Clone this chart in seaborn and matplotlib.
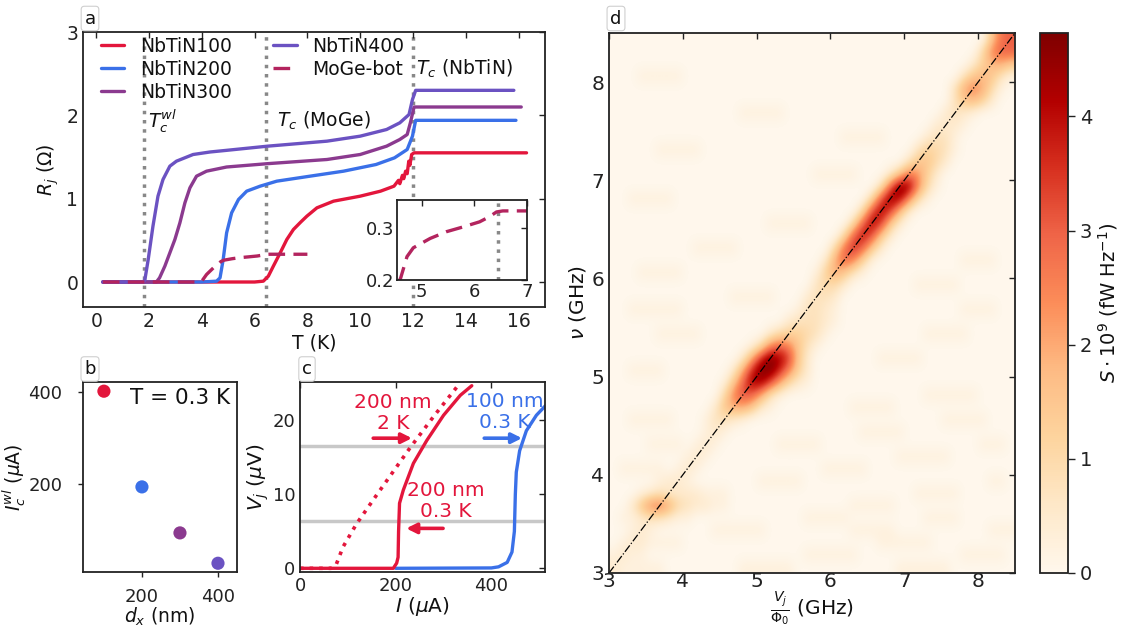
import numpy as np
import pandas as pd
import matplotlib
matplotlib.use("Agg")
import matplotlib.pyplot as plt
import seaborn as sns

# ---------------- data ----------------
# panel a : R_j(T)
T_100 = [0.25, 2.0, 4.0, 6.0, 6.33, 6.52, 6.71, 6.97, 7.22, 7.47, 7.75, 7.98, 8.36, 8.99, 10.0,
         10.77, 11.28, 11.45, 11.5, 11.6, 11.65, 11.72, 11.78, 11.84, 11.88, 11.95, 12.04, 16.3]
R_100 = [0, 0, 0, 0, 0.01, 0.07, 0.19, 0.35, 0.51, 0.63, 0.72, 0.79, 0.89, 0.97, 1.03,
         1.09, 1.15, 1.22, 1.18, 1.28, 1.24, 1.33, 1.30, 1.45, 1.40, 1.53, 1.55, 1.55]
T_200 = [0.25, 4.0, 4.56, 4.69, 4.81, 4.94, 5.13, 5.39, 5.7, 6.21, 6.84, 8.1, 9.37, 10.6,
         11.3, 11.78, 11.98, 12.1, 15.9]
R_200 = [0, 0, 0.01, 0.05, 0.27, 0.59, 0.83, 0.99, 1.09, 1.15, 1.21, 1.27, 1.33, 1.41,
         1.49, 1.59, 1.75, 1.94, 1.94]
T_300 = [0.25, 2.28, 2.4, 2.6, 2.79, 2.98, 3.17, 3.36, 3.55, 3.8, 4.18, 4.94, 6.49, 8.74,
         10.0, 11.0, 11.5, 11.78, 11.9, 12.04, 16.1]
R_300 = [0, 0, 0.05, 0.19, 0.35, 0.51, 0.71, 0.95, 1.13, 1.27, 1.33, 1.38, 1.42, 1.47,
         1.53, 1.63, 1.71, 1.77, 1.91, 2.10, 2.10]
T_400 = [0.25, 1.77, 1.84, 1.97, 2.15, 2.34, 2.53, 2.79, 3.04, 3.67, 4.31, 4.94, 6.49, 8.74,
         10.0, 11.0, 11.5, 11.85, 11.98, 12.1, 15.82]
R_400 = [0, 0, 0.02, 0.27, 0.67, 1.03, 1.23, 1.39, 1.45, 1.53, 1.56, 1.58, 1.63, 1.69,
         1.75, 1.83, 1.91, 2.01, 2.19, 2.30, 2.30]
T_moge = [0.25, 3.9, 4.0, 4.18, 4.44, 4.6, 4.72, 4.84, 5.16, 5.47, 5.78, 6.1, 6.29, 6.42, 6.54, 8.0]
R_moge = [0, 0, 0.01, 0.09, 0.17, 0.204, 0.245, 0.262, 0.28, 0.293, 0.302, 0.312, 0.322,
          0.331, 0.333, 0.333]
T_lines = [1.8, 6.45, 12.0]

# panel b : critical current vs width
d_x = [100, 200, 300, 400]
Ic_wl = [402, 194, 94, 28]
b_names = ["NbTiN100", "NbTiN200", "NbTiN300", "NbTiN400"]

# panel c : V(I)
I_200_03 = [0, 195, 202, 205, 206, 208, 216, 237, 265, 300, 335, 359]
V_200_03 = [0, 0, 0.7, 1.5, 5.0, 8.8, 10.6, 14.2, 17.3, 20.7, 23.4, 24.7]
I_200_2 = [0, 65, 75, 90, 118, 160, 230, 280, 330]
V_200_2 = [0, 0, 0.4, 2.9, 6.0, 9.9, 16.3, 20.6, 24.7]
I_100_03 = [200, 400, 415, 433, 443, 448, 450, 452, 459, 473, 494, 513]
V_100_03 = [0, 0.05, 0.2, 0.8, 2.2, 5.0, 10.0, 13.0, 15.9, 18.6, 20.7, 22.0]
V_levels = [16.6, 6.4]

# panel d : emission spectrum S(V/Phi0, nu), 0.125 GHz cells, rows bottom->top,
# one character per cell: value = int(char, 36) * 0.25
S_rows = [
    "2111 1100 0000 0011 1111 0000 0000 0001 1111 1000 0000",
    "1211 0000 0000 0000 0000 0111 1110 0000 0000 0011 1110",
    "0122 1111 0000 0000 0000 0000 0000 0111 1110 0000 0000",
    "0012 1000 0001 1111 1000 0000 0011 1110 0000 0000 0111",
    "0112 3321 1000 0000 0000 0111 1100 0000 0011 1100 0000",
    "0026 ab84 3221 1000 0000 0000 0011 1110 0000 0000 0000",
    "0001 2322 2211 1000 0000 0000 0000 0000 0111 1100 0000",
    "0000 0122 1000 0000 1111 1000 0000 0000 0000 0000 0110",
    "0111 1101 2100 0000 0000 0001 1111 0000 0000 0000 0000",
    "0000 0000 1210 0000 0000 0000 0000 0001 1111 1000 0000",
    "0000 1111 0121 0000 0011 1110 0000 0000 0000 0000 1110",
    "0000 0000 0012 1000 0000 0000 0001 1111 0000 0000 0000",
    "0011 1110 0013 3210 0000 0000 0000 0000 0000 1111 1000",
    "0000 0000 0002 6886 2100 0000 0011 1110 0000 0000 0000",
    "0000 0000 0000 4adc 8310 0000 0000 0000 0011 1111 0000",
    "0000 0000 0000 16ch hd84 2100 0000 0000 0000 0000 0000",
    "0011 1100 0000 028f jjfa 5200 0000 0000 0000 0000 0000",
    "0000 0000 0000 0028 fjhe 6200 0000 0111 1100 0000 0000",
    "0000 0000 0000 0001 4aca 6310 0000 0000 0000 0000 0000",
    "0000 0111 1100 0000 0245 5431 0000 0000 0011 1110 0000",
    "0000 0000 0000 0000 0002 3332 1000 0000 0000 0000 0000",
    "0011 1111 0000 0000 0000 1332 1000 0000 0000 0011 1100",
    "0000 0000 0000 0111 1100 0233 2000 0000 0000 0000 0000",
    "0000 0000 0000 0000 0000 0034 4200 0000 0111 1100 0000",
    "0001 1111 0000 0000 0000 0015 8631 0000 0000 0000 0000",
    "0000 0000 0000 0000 0000 0002 8ca5 1000 0000 0011 1100",
    "0000 0000 0111 1100 0000 0000 4bfc 6200 0000 0000 0000",
    "0000 0000 0000 0000 0000 0000 04cg d620 0000 0000 0000",
    "0000 0000 0000 0000 0111 1100 004c he62 0000 0000 0000",
    "0000 0000 0000 0000 0000 0000 0004 dhe7 2000 0000 0000",
    "0011 1110 0000 0000 0000 0000 0000 4dih a410 0000 0000",
    "0000 0000 0000 0000 0000 0000 0000 03cj ia41 0000 0000",
    "0000 0000 0000 0000 0000 0011 1110 0026 b952 0000 0000",
    "0000 0000 0000 0000 0000 0000 0000 0000 3664 2000 0000",
    "0000 0111 1100 0000 0000 0000 0000 0000 0354 3100 0000",
    "0000 0000 0000 0000 0000 0000 0111 1100 0023 3100 0000",
    "0000 0000 0000 0000 0000 0000 0000 0000 0002 2210 0000",
    "0000 0000 0000 0011 1110 0000 0000 0000 0000 2321 0000",
    "0000 0000 0000 0000 0000 0000 0000 0000 0000 0367 5200",
    "0000 0000 0000 0000 0000 0000 0000 0000 0000 038a 8410",
    "0001 1111 0000 0000 0000 0000 0000 0000 0000 0036 7631",
    "0000 0000 0000 0000 0000 0000 0000 0000 0000 0002 5786",
    "0000 0000 0000 0000 0000 0000 0000 0000 0000 0000 4acc",
    "0000 0000 0000 0000 0000 0000 0000 0000 0000 0000 06bc",
]
freq_range = [3.0, 8.5]
diag = [3.0, 8.5]

# ---------------- style ----------------
sns.set_theme(style="white")
plt.rcParams["font.family"] = ["DejaVu Sans"]
plt.rcParams["mathtext.fontset"] = "dejavusans"
plt.rcParams["font.size"] = 13.5
plt.rcParams["axes.labelsize"] = 13.5
plt.rcParams["xtick.labelsize"] = 13.5
plt.rcParams["ytick.labelsize"] = 13.5
plt.rcParams["axes.edgecolor"] = "#222222"
plt.rcParams["axes.linewidth"] = 1.3
plt.rcParams["text.color"] = "#111111"
plt.rcParams["axes.labelcolor"] = "#111111"
plt.rcParams["xtick.color"] = "#222222"
plt.rcParams["ytick.color"] = "#222222"

C100, C200, C300, C400, CMOGE = "#e3163c", "#3a70e8", "#8b3a8f", "#6b52c2", "#b3245e"
GRAYDOT = "#888888"

W, H = 1126, 629
fig = plt.figure(figsize=(W / 100, H / 100), dpi=100)


def box(l, t, r, b):
    return [l / W, 1 - b / H, (r - l) / W, (b - t) / H]


def ticks_in(ax, size):
    ax.tick_params(direction="in", top=True, right=True, length=4, width=1, labelsize=size)


def panel_label(cx, cy, s):
    fig.text(cx / W, 1 - cy / H, s, ha="center", va="center", fontsize=13,
             bbox=dict(boxstyle="round,pad=0.18", fc="white", ec="#cfcfcf", lw=0.8))


LW = 2.4

# ---------------- panel a ----------------
axa = fig.add_axes(box(83, 32, 545, 307))
for T, R, c, name in [(T_100, R_100, C100, "NbTiN100"), (T_200, R_200, C200, "NbTiN200"),
                      (T_300, R_300, C300, "NbTiN300"), (T_400, R_400, C400, "NbTiN400")]:
    sns.lineplot(x=T, y=R, ax=axa, color=c, lw=LW, label=name, sort=False, estimator=None)
sns.lineplot(x=T_moge, y=R_moge, ax=axa, color=CMOGE, lw=LW, label="MoGe-bot",
             linestyle=(0, (5, 2.5)), sort=False, estimator=None)
for t in T_lines:
    axa.axvline(t, color=GRAYDOT, ls=":", lw=2.5, zorder=0)
axa.set_xlim(-0.5, 17.0)
axa.set_ylim(-0.3, 3.0)
axa.set_xticks(range(0, 17, 2))
axa.set_yticks([0, 1, 2, 3])
axa.set_xlabel("T (K)", labelpad=2)
axa.set_ylabel(r"$R_j$ ($\Omega$)")
ticks_in(axa, 13.5)
axa.legend(ncol=2, loc="upper left", bbox_to_anchor=(0.028, 1.0), frameon=False,
           handlelength=1.25, handletextpad=0.85, columnspacing=2.2, labelspacing=0.21,
           borderaxespad=0.0, borderpad=0.25, fontsize=13.5)
axa.text(1.95, 1.93, r"$T_c^{wl}$", va="center", ha="left")
axa.text(6.85, 1.93, r"$T_c$ (MoGe)", va="center", ha="left")
axa.text(12.1, 2.56, r"$T_c$ (NbTiN)", va="center", ha="left")

axi = fig.add_axes(box(397, 200, 527, 280))
axi.set_facecolor("white")
sns.lineplot(x=T_moge, y=R_moge, ax=axi, color=CMOGE, lw=LW, linestyle=(0, (5, 2.5)),
             sort=False, estimator=None)
axi.axvline(T_lines[1], color=GRAYDOT, ls=":", lw=2.5, zorder=0)
axi.set_xlim(4.53, 7.0)
axi.set_ylim(0.2, 0.354)
axi.set_xticks([5, 6, 7])
axi.set_yticks([0.2, 0.3])
axi.set_yticklabels(["0.2", "0.3"])
axi.set_xlabel("")
axi.set_ylabel("")
ticks_in(axi, 13)
axi.tick_params(pad=2)

# ---------------- panel b ----------------
axb = fig.add_axes(box(83, 382, 237, 572))
dfb = pd.DataFrame({"d": d_x, "I": Ic_wl, "name": b_names})
sns.scatterplot(data=dfb, x="d", y="I", hue="name", palette=[C100, C200, C300, C400],
                s=90, edgecolor="none", legend=False, ax=axb)
axb.set_xlim(45, 450)
axb.set_ylim(9, 422)
axb.set_xticks([200, 400])
axb.set_yticks([200, 400])
axb.tick_params(direction="out", length=3.8, width=1, bottom=True, left=True, labelsize=13)
axb.tick_params(axis="x", pad=7.5)
axb.tick_params(axis="y", pad=11)
axb.set_xlabel(r"$d_x$ (nm)", labelpad=0, fontsize=13.5)
axb.set_ylabel(r"$I_c^{wl}$ ($\mu$A)", labelpad=0, fontsize=13.5)
axb.text(0.955, 0.915, "T = 0.3 K", transform=axb.transAxes, ha="right", va="center",
         fontsize=15.5)

# ---------------- panel c ----------------
axc = fig.add_axes(box(300, 382, 545, 572))
for v in V_levels:
    axc.axhline(v, color="#c8c8c8", lw=2.5, zorder=0)
sns.lineplot(x=I_100_03, y=V_100_03, ax=axc, color=C200, lw=LW, sort=False, estimator=None)
sns.lineplot(x=I_200_03, y=V_200_03, ax=axc, color=C100, lw=LW, sort=False, estimator=None)
sns.lineplot(x=I_200_2, y=V_200_2, ax=axc, color=C100, lw=2.6, linestyle=":", sort=False,
             estimator=None)
axc.set_xlim(0, 512)
axc.set_ylim(-0.5, 25.2)
axc.set_xticks([0, 200, 400])
axc.set_yticks([0, 10, 20])
ticks_in(axc, 13)
axc.set_xlabel(r"$I$ ($\mu$A)", labelpad=0, fontsize=14.5)
axc.set_ylabel(r"$V_j$ ($\mu$V)", labelpad=1, fontsize=14.5)
tk = dict(ha="center", va="center", linespacing=1.15, fontsize=14.5)
axc.text(195, 21.0, "200 nm\n2 K", color=C100, **tk)
axc.text(304, 9.1, "200 nm\n0.3 K", color=C100, **tk)
axc.text(429, 21.1, "100 nm\n0.3 K", color=C200, **tk)
arrow_kw = dict(arrowstyle="-|>", lw=2.6, mutation_scale=15, shrinkA=0, shrinkB=0)
axc.annotate("", xy=(234, 17.6), xytext=(153, 17.6), arrowprops=dict(color=C100, **arrow_kw))
axc.annotate("", xy=(222, 5.4), xytext=(299, 5.4), arrowprops=dict(color=C100, **arrow_kw))
axc.annotate("", xy=(464, 17.6), xytext=(385, 17.6), arrowprops=dict(color=C200, **arrow_kw))

# ---------------- panel d ----------------
S = np.array([[int(ch, 36) * 0.25 for ch in r.replace(" ", "").ljust(44, "0")[:44]]
              for r in S_rows])
axd = fig.add_axes(box(609, 33, 1015, 573))
im = axd.imshow(S, origin="lower",
                extent=(freq_range[0], freq_range[1], freq_range[0], freq_range[1]),
                cmap="OrRd", vmin=0, vmax=4.73, interpolation="bicubic", aspect="auto")
sns.lineplot(x=diag, y=diag, ax=axd, color="black", lw=0.9, linestyle="-.", sort=False,
             estimator=None)
axd.set_xlim(*freq_range)
axd.set_ylim(*freq_range)
axd.set_xticks([3, 4, 5, 6, 7, 8])
axd.set_yticks([3, 4, 5, 6, 7, 8])
ticks_in(axd, 14.5)
axd.tick_params(axis="x", pad=-1)
axd.set_xlabel(r"$\frac{V_j}{\Phi_0}$ (GHz)", labelpad=0, fontsize=14.5)
axd.set_ylabel(r"$\nu$ (GHz)", labelpad=2, fontsize=14.5)

cax = fig.add_axes(box(1040, 33, 1068, 573))
cb = fig.colorbar(im, cax=cax, ticks=[0, 1, 2, 3, 4])
cb.outline.set_linewidth(1.3)
cb.outline.set_edgecolor("#222222")
cax.tick_params(direction="out", length=5, width=1, labelsize=14)
cb.set_label(r"$S\cdot10^9$ (fW Hz$^{-1}$)", labelpad=3, fontsize=14)

panel_label(90, 18.5, "a")
panel_label(90, 369, "b")
panel_label(307, 369, "c")
panel_label(616, 18.5, "d")

fig.savefig("out.png", dpi=100)
